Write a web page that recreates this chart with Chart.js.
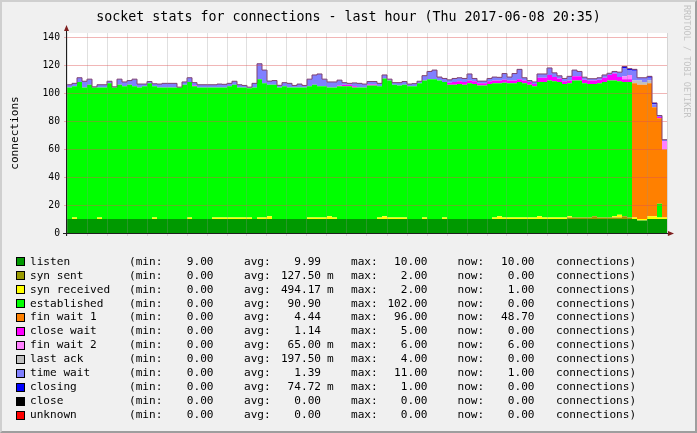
<!DOCTYPE html>
<html>
<head>
<meta charset="utf-8">
<title>socket stats for connections</title>
<script src="https://cdn.jsdelivr.net/npm/chart.js@4.4.0/dist/chart.umd.min.js"></script>
<style>
  body { margin: 0; background: #fff; }
  #page { position: relative; width: 697px; height: 433px; background: #f0f0f0; overflow: hidden;
          font-family: 'DejaVu Sans Mono', monospace; color: #000; }
  #bevel { position: absolute; left: 0; top: 0; width: 697px; height: 433px; box-sizing: border-box;
           border-style: solid; border-width: 2px; border-color: #cfcfcf #9e9e9e #9e9e9e #cfcfcf; }
  #chart-box { position: absolute; left: 0; top: 0; width: 697px; height: 260px; }
  #title { position: absolute; left: 0; top: 8px; width: 697px; text-align: center;
           font-size: 13.3px; line-height: 17px; white-space: pre; }
  #stamp { position: absolute; left: 682px; top: 5px; writing-mode: vertical-rl;
           font-size: 8.5px; line-height: 9px; color: #c4c4c4; white-space: pre; }
  .row { position: absolute; left: 0; width: 697px; height: 14px; font-size: 11.1px; line-height: 14px; white-space: pre; }
  .row span { position: absolute; top: 0; }
  .row .sw { top: 2.5px; left: 16px; width: 7px; height: 7px; border: 1px solid #000; }
  .row .num { width: 60px; text-align: right; }
</style>
</head>
<body>
<div id="page">
  <div id="chart-box"><canvas id="socketChart"></canvas></div>
  <div id="title">socket stats for connections - last hour (Thu 2017-06-08 20:35)</div>
  <div id="stamp">RRDTOOL / TOBI OETIKER</div>
  <div id="legend"></div>
  <div id="bevel"></div>
</div>
<script>
// Sumbu waktu: menit sejak 19:00, satu titik tiap 30 detik
const startMinute = 35.1;
const endMinute = 95.1;
const stepMinutes = 0.5;

const seriesLabels = ['listen', 'syn sent', 'syn received', 'established', 'fin wait 1', 'close wait',
    'fin wait 2', 'last ack', 'time wait', 'closing', 'close', 'unknown'];
const seriesColors = ['#009900', '#999900', '#ffff00', '#00ff00', '#ff8000', '#ff00ff',
    '#ff80ff', '#c0c0c0', '#8080ff', '#0000ff', '#000000', '#ff0000'];

// Nilai tiap seri (koneksi), 120 titik
const listenData = [
    10, 10, 10, 10, 10, 10, 10, 10, 10, 10,  10, 10, 10, 10, 10, 10, 10, 10, 10, 10,
    10, 10, 10, 10, 10, 10, 10, 10, 10, 10,  10, 10, 10, 10, 10, 10, 10, 10, 10, 10,
    10, 10, 10, 10, 10, 10, 10, 10, 10, 10,  10, 10, 10, 10, 10, 10, 10, 10, 10, 10,
    10, 10, 10, 10, 10, 10, 10, 10, 10, 10,  10, 10, 10, 10, 10, 10, 10, 10, 10, 10,
    10, 10, 10, 10, 10, 10, 10, 10, 10, 10,  10, 10, 10, 10, 10, 10, 10, 10, 10, 10,
    10, 10, 10, 10, 10, 10, 10, 10, 10, 10,  10, 10, 10, 10, 9, 9, 10, 10, 10, 10
];
const synSentData = [
    0, 0, 0, 0, 0, 0, 0, 0, 0, 0,  0, 0, 0, 0, 0, 0, 0, 0, 0, 0,
    0, 0, 0, 0, 0, 0, 0, 0, 0, 0,  0, 0, 0, 0, 0, 0, 0, 0, 0, 0,
    0, 0, 0, 0, 0, 0, 0, 0, 0, 0,  0, 0, 0, 0, 0, 0, 0, 0, 0, 0,
    0, 0, 0, 0, 0, 0, 0, 0, 0, 0,  0, 0, 0, 0, 0, 0, 0, 0, 0, 0,
    0, 0, 0, 0, 0, 0, 0, 0, 0, 0,  0, 0, 0, 0, 0, 0, 0, 0, 0, 0,
    1, 1, 1, 1, 1, 2, 1, 1, 1, 1,  1, 2, 1, 0, 0, 0, 0, 0, 0, 0
];
const synRecvData = [
    0, 1, 0, 0, 0, 0, 1, 0, 0, 0,  0, 0, 0, 0, 0, 0, 0, 1, 0, 0,
    0, 0, 0, 0, 1, 0, 0, 0, 0, 1,  1, 1, 1, 1, 1, 1, 1, 0, 1, 1,
    2, 0, 0, 0, 0, 0, 0, 0, 1, 1,  1, 1, 2, 1, 0, 0, 0, 0, 0, 0,
    0, 0, 1, 2, 1, 1, 1, 1, 0, 0,  0, 1, 0, 0, 0, 1, 0, 0, 0, 0,
    0, 0, 0, 0, 0, 1, 2, 1, 1, 1,  1, 1, 1, 1, 2, 1, 1, 1, 1, 1,
    1, 0, 0, 0, 0, 0, 0, 0, 0, 1,  2, 0, 0, 1, 1, 1, 2, 2, 1, 1
];
const establishedData = [
    94, 94, 98, 94, 96, 94, 93, 94, 97, 94,  96, 95, 96, 95, 94, 95, 97, 94, 94, 94,
    94, 94, 94, 96, 97, 95, 94, 94, 94, 93,  93, 93, 94, 95, 93, 93, 92.5, 94, 99, 96,
    94, 96, 94, 95, 94, 94, 94, 94, 94, 95,  94, 94, 92, 93, 95, 95, 95, 94, 94, 94,
    95.5, 95.5, 94, 98.5, 98, 95, 94.5, 95, 95, 95,  97, 98, 100, 100, 99, 97, 96, 96, 96.5, 96,
    97, 96.5, 95.5, 95.5, 96.5, 96, 95, 96.5, 96, 96,  97, 96, 95, 94, 96, 97, 98, 97.5, 97, 95.5,
    95, 98, 98, 96, 95.5, 94.5, 96, 97, 98, 97,  95.5, 96, 97, 0, 0, 0, 0, 0, 10, 0
];
const finWait1Data = [
    0, 0, 0, 0, 0, 0, 0, 0, 0, 0,  0, 0, 0, 0, 0, 0, 0, 0, 0, 0,
    0, 0, 0, 0, 0, 0, 0, 0, 0, 0,  0, 0, 0, 0, 0, 0, 0, 0, 0, 0,
    0, 0, 0, 0, 0, 0, 0, 0, 0, 0,  0, 0, 0, 0, 0, 0, 0, 0, 0, 0,
    0, 0, 0, 0, 0, 0, 0, 0, 0, 0,  0, 0, 0, 0, 0, 0, 0, 0, 0, 0,
    0, 0, 0, 0, 0, 0, 0, 0, 0, 0,  0, 0, 0, 0, 0, 0, 0, 0, 0, 0,
    0, 0, 0, 0, 0, 0, 0, 0, 0, 0,  0, 0, 0, 96, 96, 96, 95, 78, 61, 48.7
];
const closeWaitData = [
    0, 0, 0, 0, 0, 0, 0, 0, 0, 0,  0, 0, 0, 0, 0, 0, 0, 0, 0, 0,
    0, 0, 0, 0, 0, 0.5, 0, 0, 0, 0,  0, 0, 0, 0, 0, 0, 0, 0, 0, 0,
    0, 0, 0, 0, 0, 0, 0, 0, 0, 0,  0, 0, 0, 0, 0.5, 1, 1, 1, 0, 0,
    0.7, 0.7, 0, 0, 0, 0, 0, 0, 0, 0,  0, 0, 0, 0, 0, 0, 1.5, 2, 2, 2,
    2, 2, 1.5, 1.5, 2, 2, 2, 2, 2, 2,  2, 2, 2, 1.5, 3, 3, 4, 3, 2.5, 2,
    2, 3, 3, 2.5, 2.5, 2.5, 2.5, 3, 4, 5,  3, 2, 2, 0, 0, 0, 0, 0, 1, 0
];
const finWait2Data = [
    0, 0, 0, 0, 0, 0, 0, 0, 0, 0,  0, 0, 0, 0, 0, 0, 0, 0, 0, 0,
    0, 0, 0, 0, 0, 0, 0, 0, 0, 0,  0, 0, 0, 0, 0, 0, 0, 0, 0, 0,
    0, 0, 0, 0, 0, 0, 0, 0, 0, 0,  0, 0, 0, 0, 0, 0, 0, 0, 0, 0,
    0, 0, 0, 0, 0, 0, 0, 0, 0, 0,  0, 0, 0, 0, 0, 0, 0, 0, 0, 0,
    0, 0, 0, 0, 0, 0, 0, 0, 0, 0,  0, 0, 0, 0, 0, 0, 0, 0, 0, 0,
    0, 0, 0, 0, 0, 0, 0, 0, 0, 0,  0, 2, 3, 0, 0, 0, 0, 0, 0, 6
];
const lastAckData = [
    0, 0, 0, 0, 0, 0, 0, 0, 0, 0,  0, 0, 0, 0, 0, 0, 0, 0, 0, 0,
    0, 0, 0, 0, 0, 0, 0, 0, 0, 0,  0, 0, 0, 0, 0, 0, 0, 0, 0, 0,
    0, 0, 0, 0, 0, 0, 0, 0, 0, 0,  0, 0, 0, 0, 0, 0, 0, 0, 0, 0,
    0, 0, 0, 0, 0, 0, 0, 0, 0, 0,  0, 0, 0, 0, 0, 0, 0, 0, 0, 0,
    0, 0, 0, 0, 0, 0, 0, 0, 0, 0,  0, 0, 0, 0, 0, 0, 0, 0, 0, 0,
    0, 0, 0, 0, 0, 0, 0, 0, 0, 0,  0, 0, 0, 2, 3, 2, 2, 0, 0, 0
];
const timeWaitData = [
    2, 2, 3, 4.5, 4, 0.5, 2, 2, 1.5, 0.5,  4, 3, 3, 5, 2.5, 1.5, 1.3, 1.7, 2.5, 3,
    3, 3, 0.3, 2, 3, 2, 2, 2, 2, 2,  2.5, 2.3, 2, 2.5, 2, 1.5, 0.8, 3, 11, 9.5,
    2.6, 3, 1.6, 2.5, 3, 1.5, 2.5, 1.5, 5, 7,  8.7, 5, 4, 4, 3.8, 1.5, 1, 2.3, 3, 2.5,
    2.1, 2.1, 2, 2.5, 1, 1.5, 2, 2.3, 1.5, 1.8,  1.5, 3.5, 5.5, 6.5, 2.5, 2.5, 2, 2.5, 2.5, 2.5,
    4.7, 2, 1.6, 1.6, 2, 2.5, 2.3, 4.5, 2.5, 5,  7, 2, 1, 1.5, 2.7, 2.7, 5, 3, 1.9, 2,
    3, 4.5, 3.5, 1.9, 1.3, 1.3, 1.5, 2, 1.2, 1.5,  3.5, 6, 3.5, 7, 2, 3, 2, 2, 1, 1
];
const closingData = [
    0, 0, 0, 0, 0, 0, 0, 0, 0, 0,  0, 0, 0, 0, 0, 0, 0, 0, 0, 0,
    0, 0, 0, 0, 0, 0, 0, 0, 0, 0,  0, 0, 0, 0, 0, 0, 0, 0, 0, 0,
    0, 0, 0, 0, 0, 0, 0, 0, 0, 0,  0, 0, 0, 0, 0, 0, 0, 0, 0, 0,
    0, 0, 0, 0, 0, 0, 0, 0, 0, 0,  0, 0, 0, 0, 0, 0, 0, 0, 0, 0,
    0, 0, 0, 0, 0, 0, 0, 0, 0, 0,  0, 0, 0, 0, 0, 0, 0, 0, 0, 0,
    0, 0, 0, 0, 0, 0, 0, 0, 0, 0,  0, 1, 1, 1, 0, 0, 1, 1, 0, 0
];
// close dan unknown selalu nol (max 0.00)
const closeData = new Array(120).fill(0);
const unknownData = new Array(120).fill(0);

const seriesData = [listenData, synSentData, synRecvData, establishedData, finWait1Data, closeWaitData,
    finWait2Data, lastAckData, timeWaitData, closingData, closeData, unknownData];

// Teks legenda (min / avg / max / now)
const legendMin = ['9.00', '0.00', '0.00', '0.00', '0.00', '0.00', '0.00', '0.00', '0.00', '0.00', '0.00', '0.00'];
const legendAvg = ['9.99', '127.50', '494.17', '90.90', '4.44', '1.14', '65.00', '197.50', '1.39', '74.72', '0.00', '0.00'];
const legendAvgUnit = ['', 'm', 'm', '', '', '', 'm', 'm', '', 'm', '', ''];
const legendMax = ['10.00', '2.00', '2.00', '102.00', '96.00', '5.00', '6.00', '4.00', '11.00', '1.00', '0.00', '0.00'];
const legendNow = ['10.00', '0.00', '1.00', '0.00', '48.70', '0.00', '6.00', '0.00', '1.00', '0.00', '0.00', '0.00'];

const monoFont = "'DejaVu Sans Mono', monospace";
const minorGrid = 'rgba(143, 143, 143, 0.28)';
const majorGrid = 'rgba(222, 80, 80, 0.42)';
const topEdgeColor = '#804070';

function minuteLabel(v) {
    const h = 19 + Math.floor(v / 60);
    const m = v % 60;
    return h + ':' + String(m).padStart(2, '0');
}

function toPoints(values) {
    const pts = values.map((v, i) => ({ x: startMinute + i * stepMinutes, y: v }));
    pts.push({ x: endMinute, y: values[values.length - 1] }); // tutup langkah terakhir
    return pts;
}

// Latar kanvas putih, sumbu dan panah ala rrdtool
const rrdFrame = {
    id: 'rrdFrame',
    beforeDraw(chart) {
        const { ctx, chartArea: a } = chart;
        ctx.save();
        ctx.fillStyle = '#ffffff';
        ctx.fillRect(a.left, a.top, a.right - a.left, a.bottom - a.top);
        ctx.restore();
    },
    afterDraw(chart) {
        const { ctx, chartArea: a } = chart;
        ctx.save();
        ctx.strokeStyle = '#1f1f1f';
        ctx.lineWidth = 1;
        ctx.beginPath();
        ctx.moveTo(a.left - 0.5, a.bottom + 3);
        ctx.lineTo(a.left - 0.5, a.top - 4);
        ctx.moveTo(a.left - 4, a.bottom + 0.5);
        ctx.lineTo(a.right + 4, a.bottom + 0.5);
        ctx.stroke();
        ctx.fillStyle = '#7f1f1f';
        ctx.beginPath();
        ctx.moveTo(a.left - 3, a.top - 2);
        ctx.lineTo(a.left + 2, a.top - 2);
        ctx.lineTo(a.left - 0.5, a.top - 8);
        ctx.closePath();
        ctx.fill();
        ctx.beginPath();
        ctx.moveTo(a.right + 1, a.bottom - 2);
        ctx.lineTo(a.right + 1, a.bottom + 3);
        ctx.lineTo(a.right + 7, a.bottom + 0.5);
        ctx.closePath();
        ctx.fill();
        ctx.restore();
    }
};

function buildLegend() {
    const box = document.getElementById('legend');
    seriesLabels.forEach((label, i) => {
        const row = document.createElement('div');
        row.className = 'row';
        row.style.top = (254.7 + i * 13.94) + 'px';
        row.innerHTML = `
            <span class="sw" style="background:${seriesColors[i]}"></span>
            <span style="left:30px">${label}</span>
            <span style="left:129px">(min:</span>
            <span class="num" style="left:153.5px">${legendMin[i]}</span>
            <span style="left:244px">avg:</span>
            <span class="num" style="left:261px">${legendAvg[i]}</span>
            <span style="left:327px">${legendAvgUnit[i]}</span>
            <span style="left:351px">max:</span>
            <span class="num" style="left:367.5px">${legendMax[i]}</span>
            <span style="left:457.5px">now:</span>
            <span class="num" style="left:474.5px">${legendNow[i]}</span>
            <span style="left:556px">connections)</span>`;
        box.appendChild(row);
    });
}

document.addEventListener('DOMContentLoaded', function() {
    buildLegend();

    const datasets = seriesData.map((values, i) => {
        const isTop = i === seriesData.length - 1;
        return {
            label: seriesLabels[i],
            data: toPoints(values),
            backgroundColor: seriesColors[i],
            borderColor: isTop ? topEdgeColor : 'rgba(0,0,0,0)',
            borderWidth: isTop ? 1 : 0,
            fill: i === 0 ? 'origin' : '-1',
            stepped: true,
            pointRadius: 0,
            pointHoverRadius: 0
        };
    });

    const ctx = document.getElementById('socketChart').getContext('2d');
    new Chart(ctx, {
        type: 'line',
        data: { datasets: datasets },
        plugins: [rrdFrame],
        options: {
            responsive: true,
            maintainAspectRatio: false,
            animation: false,
            events: [],
            layout: { padding: { left: 0, right: 30, top: 33, bottom: 0 } },
            plugins: {
                legend: { display: false },
                tooltip: { enabled: false },
                filler: { drawTime: 'beforeDatasetsDraw' }
            },
            scales: {
                x: {
                    type: 'linear',
                    min: startMinute,
                    max: endMinute,
                    z: 1,
                    afterFit: (scale) => { scale.height = 27; },
                    border: { display: false },
                    grid: {
                        z: 1,
                        color: (c) => (c.tick && c.tick.value % 10 === 0) ? majorGrid : minorGrid,
                        lineWidth: 1,
                        tickLength: 3
                    },
                    ticks: {
                        stepSize: 2,
                        includeBounds: false,
                        autoSkip: false,
                        maxRotation: 0,
                        minRotation: 0,
                        padding: 2,
                        color: '#000',
                        font: { family: monoFont, size: 9.7 },
                        callback: (v) => v % 10 === 0 ? minuteLabel(v) : ''
                    }
                },
                y: {
                    stacked: true,
                    min: 0,
                    max: 143,
                    z: 1,
                    afterFit: (scale) => { scale.width = 67; },
                    border: { display: false },
                    grid: {
                        z: 1,
                        color: (c) => (c.tick && c.tick.value % 20 === 0) ? majorGrid : minorGrid,
                        lineWidth: 1,
                        tickLength: 3
                    },
                    ticks: {
                        stepSize: 10,
                        includeBounds: false,
                        padding: 4,
                        color: '#000',
                        font: { family: monoFont, size: 9.7 },
                        callback: (v) => v % 20 === 0 ? v : ''
                    },
                    title: {
                        display: true,
                        text: 'connections',
                        color: '#000',
                        font: { family: monoFont, size: 11.1 },
                        padding: { top: 8, bottom: 0 }
                    }
                }
            }
        }
    });
});
</script>
</body>
</html>
